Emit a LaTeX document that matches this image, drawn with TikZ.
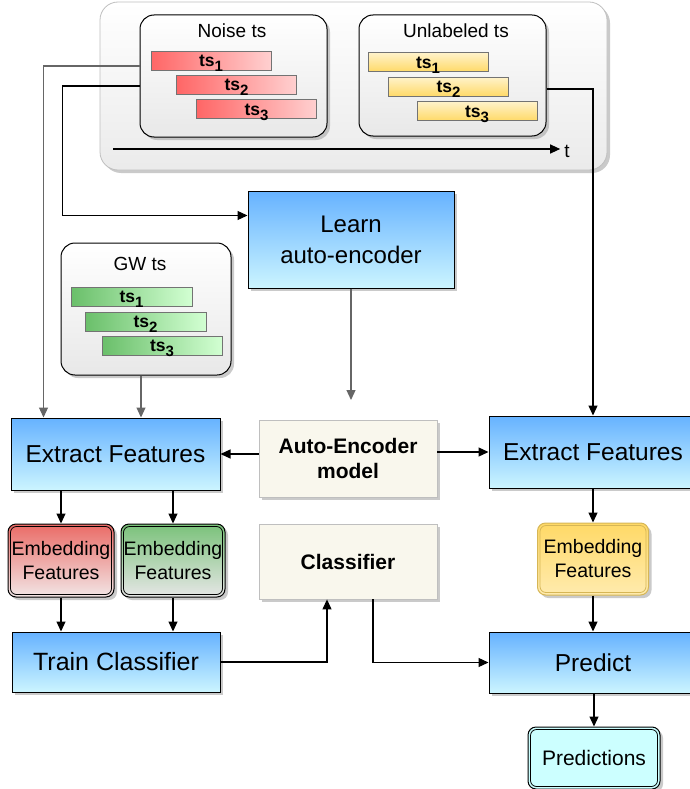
\documentclass[tikz,border=0pt]{standalone}
\usepackage{fontspec}
\setmainfont{Liberation Sans}
\usetikzlibrary{shadows,arrows.meta,calc}
\definecolor{blueTop}{HTML}{66B2FF}
\definecolor{blueBot}{HTML}{CCF5FF}
\definecolor{redA}{HTML}{FF6666}
\definecolor{redB}{HTML}{FFD0D0}
\definecolor{yelA}{HTML}{FFD966}
\definecolor{yelB}{HTML}{FFF2C8}
\definecolor{grnA}{HTML}{6ABF6A}
\definecolor{grnB}{HTML}{D2FFD2}
\definecolor{embRed}{HTML}{EA6B66}
\definecolor{embRedB}{HTML}{F2E6E6}
\definecolor{embGrn}{HTML}{7AC27A}
\definecolor{embGrnB}{HTML}{E6E6E6}
\definecolor{embYel}{HTML}{FFD966}
\definecolor{embYelB}{HTML}{FFEBAE}
\definecolor{yelLine}{HTML}{D6B656}
\definecolor{beige}{HTML}{F9F7ED}
\definecolor{cyanF}{HTML}{CCFFFF}
\definecolor{lineGray}{HTML}{666666}
\tikzset{
  shad/.style={drop shadow={shadow xshift=3pt,shadow yshift=-3pt,fill=black!35,opacity=0.6}},
  container/.style={draw=black!25, line width=0.8pt, rounded corners=18pt, top color=white, bottom color=black!8, shad},
  glass/.style={draw=black, line width=1pt, rounded corners=14pt, top color=white, bottom color=black!9, shad},
  title/.style={font=\fontsize{19}{19}\selectfont, inner sep=0},
  bar/.style={draw=black!55, line width=1pt, minimum height=19, minimum width=120, inner sep=0, font=\fontsize{17.5}{17}\selectfont\bfseries},
  redbar/.style={bar, left color=redA, right color=redB},
  yelbar/.style={bar, top color=yelB, bottom color=yelA},
  grnbar/.style={bar, left color=grnA, right color=grnB},
  bluebox/.style={draw=black, line width=1pt, top color=blueTop, bottom color=blueBot, shad, font=\fontsize{24.5}{30}\selectfont, align=center, inner sep=0},
  modelbox/.style={draw=black!25, line width=0.8pt, fill=beige, shad, font=\fontsize{21}{25}\selectfont\bfseries, align=center, inner sep=0, minimum width=178},
  emb/.style={draw=black, line width=1pt, rounded corners=8pt, shad, font=\fontsize{19.5}{24}\selectfont, align=center, inner sep=0},
  inner/.style={draw=black, line width=0.8pt, rounded corners=6pt},
  barrow/.style={draw=black, line width=1.2pt, -{Triangle[length=10pt,width=9pt]}},
  garrow/.style={draw=lineGray, line width=1.2pt, -{Triangle[length=10pt,width=9pt,fill=lineGray]}},
}
\newcommand{\tsl}[1]{ts\smash{\raisebox{-5pt}{\fontsize{15}{15}\selectfont #1}}}
\begin{document}
\begin{tikzpicture}[x=1pt,y=-1pt]
\useasboundingbox (0,0) rectangle (690,789);
% top container
\node[container, minimum width=507, minimum height=168] (outer) at (353.5,86) {};
\node[glass, minimum width=187, minimum height=122] (noise) at (233.5,76) {};
\node[glass, minimum width=187, minimum height=121] (unl) at (452.5,75.5) {};
\node[title] (noiseT) at (232,31) {Noise ts};
\node[title] (unlT) at (456,31) {Unlabeled ts};
\node[redbar] (n1) at (211,61) {\tsl{1}};
\node[redbar] (n2) at (236.5,85) {\tsl{2}};
\node[redbar] (n3) at (256.5,109.5) {\tsl{3}};
\node[yelbar] (u1) at (428,62.5) {\tsl{1}};
\node[yelbar] (u2) at (448.5,87) {\tsl{2}};
\node[yelbar] (u3) at (477,111.5) {\tsl{3}};
\coordinate (t0) at (113,149);
\node[font=\fontsize{19}{19}\selectfont, inner sep=0] (tl) at (567,151) {t};
\draw[barrow] (t0) -- ($(tl.west)+(-4,-2)$);
% GW
\node[glass, minimum width=170, minimum height=132] (gw) at (146,309) {};
\node[title] (gwT) at (140,264) {GW ts};
\node[grnbar, minimum width=121] (g1) at (131.5,297) {\tsl{1}};
\node[grnbar, minimum width=121] (g2) at (145.5,321.5) {\tsl{2}};
\node[grnbar, minimum width=120] (g3) at (162,346) {\tsl{3}};
% learn
\node[bluebox, minimum width=206, minimum height=97, font=\fontsize{24}{31}\selectfont] (learn) at (351,239.5) {Learn\\auto-encoder};
\coordinate (aeend) at (351,400);
% extract
\node[bluebox, minimum width=209, minimum height=72] (ef1) at (115.5,454) {Extract Features};
\node[bluebox, minimum width=208, minimum height=72] (ef2) at (593,452) {Extract Features};
\node[modelbox, minimum height=77] (model) at (348,458.5) {Auto-Encoder\\model};
\node[modelbox, minimum height=75] (cls) at (348,561.5) {Classifier};
% embeddings
\node[emb, top color=embRed, bottom color=embRedB, minimum width=106, minimum height=73] (er) at (61,560.5) {Embedding\\Features};
\node[emb, top color=embGrn, bottom color=embGrnB, minimum width=104, minimum height=73] (eg) at (173,560.5) {Embedding\\Features};
\node[emb, draw=yelLine, top color=embYel, bottom color=embYelB, minimum width=111, minimum height=72] (ey) at (593,559) {Embedding\\Features};
\draw[inner] ($(er.north west)+(3,3)$) rectangle ($(er.south east)+(-3,-3)$);
\draw[inner] ($(eg.north west)+(3,3)$) rectangle ($(eg.south east)+(-3,-3)$);
\draw[inner, draw=yelLine] ($(ey.north west)+(3,3)$) rectangle ($(ey.south east)+(-3,-3)$);
% train / predict
\node[bluebox, minimum width=208, minimum height=60, font=\fontsize{25}{30}\selectfont] (train) at (116,662) {Train Classifier};
\node[bluebox, minimum width=208, minimum height=61] (pred) at (593,662.5) {Predict};
\node[emb, fill=cyanF, minimum width=132, minimum height=62, font=\fontsize{21}{24}\selectfont] (preds) at (594,758) {Predictions};
\draw[inner] ($(preds.north west)+(3,3)$) rectangle ($(preds.south east)+(-3,-3)$);
% connectors
\coordinate (gwo) at ($(gw.south)+(-5,0)$);
\draw[garrow] ($(noise.west)+(0,-10)$) -| ($(ef1.north west)+(33,0)$);
\draw[barrow] ($(noise.west)+(0,10)$) -- ++(-77,0) |- ($(learn.west)+(0,-24)$);
\draw[barrow] ($(unl.east)+(0,13.5)$) -| (ef2.north);
\draw[garrow] (gwo) -- (gwo |- ef1.north);
\draw[garrow] (learn.south) -- (aeend);
\draw[barrow] (model.west |- ef1.east) -- (ef1.east);
\draw[barrow] (model.east |- ef2.west) -- (ef2.west);
\draw[barrow] (ef1.south -| er.north) -- (er.north);
\draw[barrow] (ef1.south -| eg.north) -- (eg.north);
\draw[barrow] (ef2.south) -- (ey.north);
\draw[barrow] (er.south) -- (er.south |- train.north);
\draw[barrow] (eg.south) -- (eg.south |- train.north);
\draw[barrow] (train.east) -| ($(cls.south)+(-21,0)$);
\draw[barrow] ($(cls.south)+(25,0)$) |- (pred.west);
\draw[barrow] (ey.south) -- (pred.north);
\draw[barrow] (pred.south -| preds.north) -- (preds.north);
\end{tikzpicture}
\end{document}
